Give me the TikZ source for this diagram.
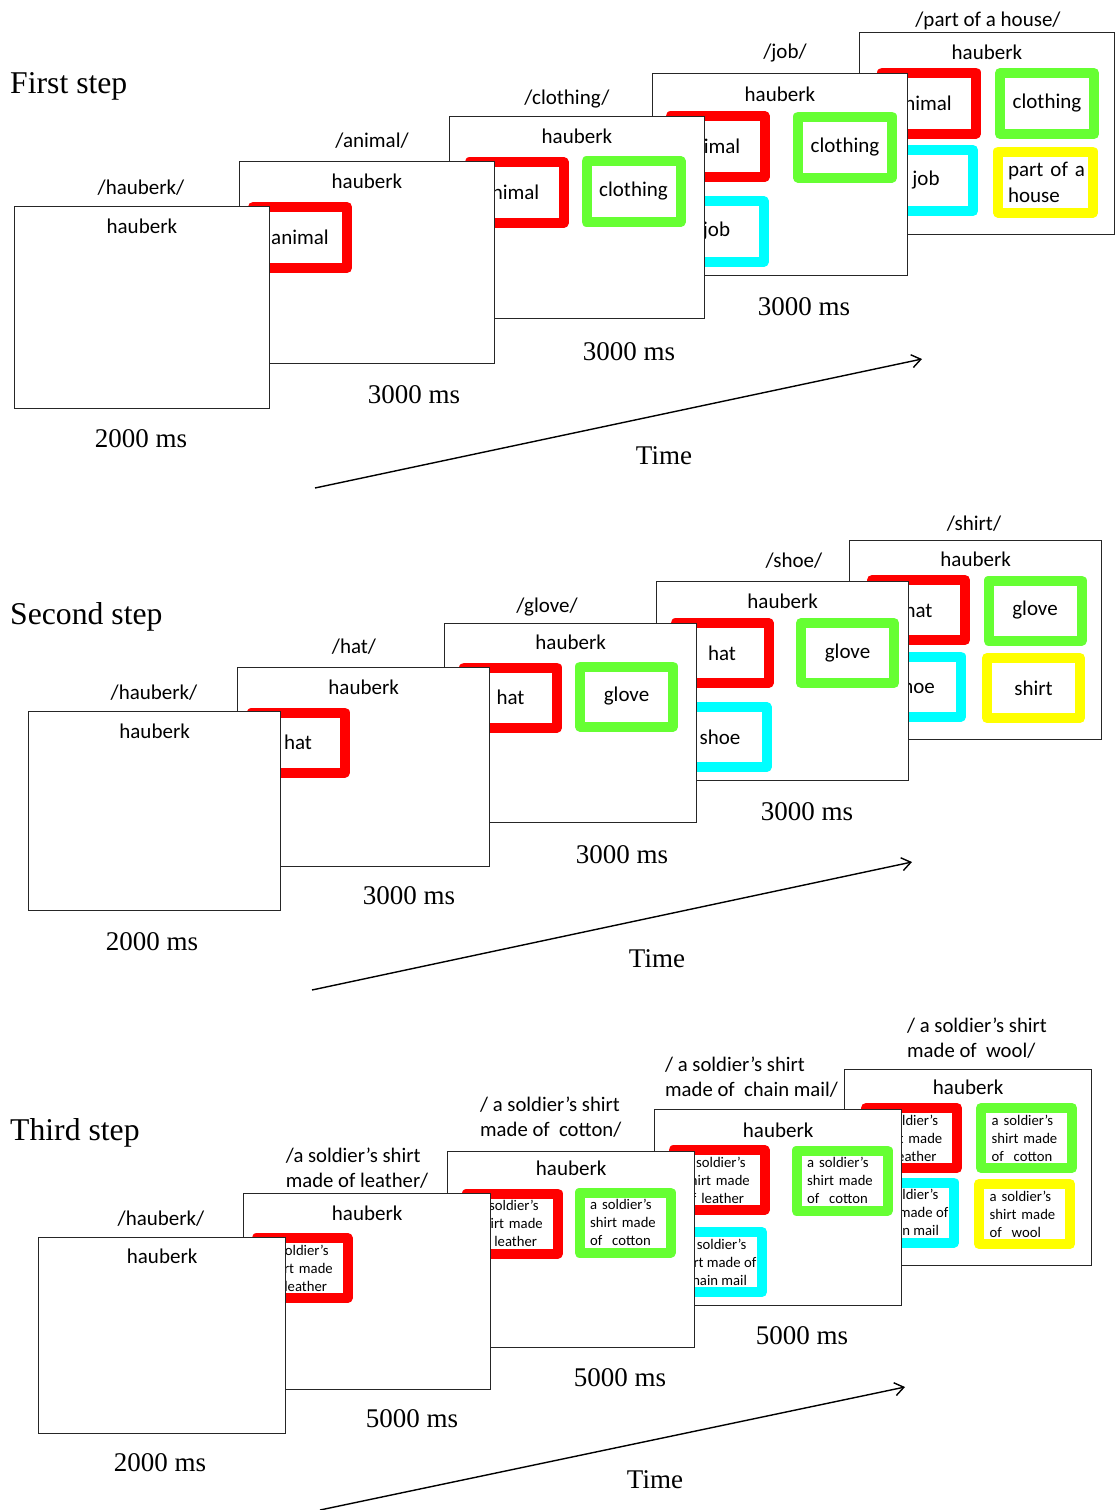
\documentclass[tikz,border=0pt]{standalone}
\usepackage{fontspec}
\usetikzlibrary{arrows.meta}
\newfontfamily\cuefont{Carlito}
\newfontfamily\capfont{Liberation Serif}
\definecolor{cueRed}{RGB}{255,0,0}
\definecolor{cueGreen}{RGB}{102,255,51}
\definecolor{cueCyan}{RGB}{0,255,255}
\definecolor{cueYellow}{RGB}{255,255,0}

\begin{document}
\begin{tikzpicture}[x=1pt,y=-1pt,
  slide/.style={draw=black!85, line width=1.3pt, fill=white, anchor=north west, inner sep=0pt},
  slideA/.style={slide, minimum width=254.5pt, minimum height=201.5pt},
  slideB/.style={slide, minimum width=252pt, minimum height=199pt},
  slideC/.style={slide, minimum width=247pt, minimum height=196pt},
  cue/.style={draw=#1, line width=10pt, line join=round, fill=white, inner sep=0pt,
    font=\cuefont\fontsize{21}{26}\selectfont},
  cueA/.style={cue=#1, minimum width=94pt, minimum height=61pt},
  cueB/.style={cue=#1, minimum width=93pt, minimum height=60pt},
  cueC/.style={cue=#1, minimum width=91pt, minimum height=60pt,
    font=\cuefont\fontsize{14.7}{18}\selectfont},
  flushA/.style={text width=75pt, align=left, inner xsep=10pt},
  flushC/.style={text width=69.6pt, align=left, inner xsep=10.7pt},
  midC/.style={align=center},
  lab/.style={font=\cuefont\fontsize{21}{25}\selectfont, inner sep=0pt},
  lab2/.style={font=\cuefont\fontsize{20.7}{25}\selectfont, inner sep=0pt, anchor=west, align=left},
  head/.style={lab},
  ms/.style={font=\capfont\fontsize{27}{32}\selectfont, inner sep=0pt},
  steptitle/.style={font=\capfont\fontsize{31.7}{38}\selectfont, inner sep=0pt, anchor=west},
  timeax/.style={line width=1.4pt, -{Straight Barb[length=9pt,width=13pt]}}
]
\useasboundingbox (0,0) rectangle (1114,1510);

% ---------------- first step ----------------
\node[steptitle] (t1) at (10,86) {First step};

\node[slideA] (a5) at (859,32) {};
\node[cueA=cueRed] (a5r) at (929,103) {animal\hspace*{12pt}};
\node[cueA=cueGreen] (a5g) at (1047,103.5) {clothing};
\node[cueA=cueCyan] (a5c) at (926,180.5) {job};
\node[cueA=cueYellow, flushA] (a5y) at (1045.5,182) {\mbox{part of a}\\house};
\node[head] (a5h) at ([yshift=-20pt]a5.north) {hauberk};
\node[lab] (a5l) at (988,21) {/part of a house/};

\node[slideA] (a4) at (652,73) {};
\node[cueA=cueRed] (a4r) at (717.5,146.5) {animal\hspace*{12pt}};
\node[cueA=cueGreen] (a4g) at (845,147) {clothing};
\node[cueA=cueCyan] (a4c) at (716.5,231.5) {job};
\node[head] (a4h) at ([yshift=-21pt]a4.north) {hauberk};
\node[lab] (a4l) at (785,53) {/job/};
\node[ms] (a4m) at (804,307) {3000 ms};

\node[slideA] (a3) at (449,116) {};
\node[cueA=cueRed] (a3r) at (516.5,192.5) {animal\hspace*{12pt}};
\node[cueA=cueGreen] (a3g) at (633.5,191.5) {clothing};
\node[head] (a3h) at ([yshift=-20pt]a3.north) {hauberk};
\node[lab] (a3l) at (567,99) {/clothing/};
\node[ms] (a3m) at (629,352) {3000 ms};

\node[slideA] (a2) at (239,161) {};
\node[cueA=cueRed] (a2r) at (300,237.5) {animal};
\node[head] (a2h) at ([yshift=-20pt]a2.north) {hauberk};
\node[lab] (a2l) at (372,141) {/animal/};
\node[ms] (a2m) at (414,395) {3000 ms};

\node[slideA] (a1) at (14,206) {};
\node[head] (a1h) at ([yshift=-20pt]a1.north) {hauberk};
\node[lab] (a1l) at (141,188) {/hauberk/};
\node[ms] (a1m) at (141,439) {2000 ms};

\coordinate (a0) at (315,488);
\coordinate (a9) at (922,359);
\draw[timeax] (a0) -- (a9);
\node[ms] (at) at (664,456) {Time};

% ---------------- second step ----------------
\node[steptitle] (t2) at (10,617) {Second step};

\node[slideB] (b5) at (849,540) {};
\node[cueB=cueRed] (b5r) at (918.5,610) {hat};
\node[cueB=cueGreen] (b5g) at (1035,610.5) {glove};
\node[cueB=cueCyan] (b5c) at (914.5,686.5) {shoe};
\node[cueB=cueYellow] (b5y) at (1033.5,688) {shirt};
\node[head] (b5h) at ([yshift=-19.5pt]b5.north) {hauberk};
\node[lab] (b5l) at (974,524) {/shirt/};

\node[slideB] (b4) at (656,581) {};
\node[cueB=cueRed] (b4r) at (722,653) {hat};
\node[cueB=cueGreen] (b4g) at (847.5,653) {glove};
\node[cueB=cueCyan] (b4c) at (720,737) {shoe};
\node[head] (b4h) at ([yshift=-20pt]b4.north) {hauberk};
\node[lab] (b4l) at (794,561) {/shoe/};
\node[ms] (b4m) at (807,812) {3000 ms};

\node[slideB] (b3) at (444,623) {};
\node[cueB=cueRed] (b3r) at (510.5,697.5) {hat};
\node[cueB=cueGreen] (b3g) at (626.5,696.5) {glove};
\node[head] (b3h) at ([yshift=-19.5pt]b3.north) {hauberk};
\node[lab] (b3l) at (547,607) {/glove/};
\node[ms] (b3m) at (622,855) {3000 ms};

\node[slideB] (b2) at (237,667) {};
\node[cueB=cueRed] (b2r) at (298,742.5) {hat};
\node[head] (b2h) at ([yshift=-20pt]b2.north) {hauberk};
\node[lab] (b2l) at (354,647) {/hat/};
\node[ms] (b2m) at (409,896) {3000 ms};

\node[slideB] (b1) at (28,711) {};
\node[head] (b1h) at ([yshift=-20pt]b1.north) {hauberk};
\node[lab] (b1l) at (154,693) {/hauberk/};
\node[ms] (b1m) at (152,942) {2000 ms};

\coordinate (b0) at (312,990);
\coordinate (b9) at (912,862);
\draw[timeax] (b0) -- (b9);
\node[ms] (bt) at (657,959) {Time};

% ---------------- third step ----------------
\node[steptitle] (t3) at (10,1133) {Third step};

\node[slideC] (c5) at (844,1069) {};
\node[cueC=cueRed, flushC] (c5r) at (911.5,1138) {a soldier’s\\shirt made\\of leather};
\node[cueC=cueGreen, flushC] (c5g) at (1026.5,1138) {a soldier’s\\shirt made\\of~~cotton};
\node[cueC=cueCyan, midC] (c5c) at (908.5,1212.5) {a soldier’s\\shirt made~of\\chain mail};
\node[cueC=cueYellow, flushC] (c5y) at (1024.5,1214) {a soldier’s\\shirt made\\of~~wool};
\node[head] (c5h) at ([yshift=-18pt]c5.north) {hauberk};
\node[lab2] (c5l) at (907,1038.5) {/ a soldier’s shirt\\made of~~wool/};

\node[slideC] (c4) at (654,1109) {};
\node[cueC=cueRed, flushC] (c4r) at (719,1180) {a soldier’s\\shirt made\\of leather};
\node[cueC=cueGreen, flushC] (c4g) at (842,1180.5) {a soldier’s\\shirt made\\of~~cotton};
\node[cueC=cueCyan, midC] (c4c) at (716.5,1262) {a soldier’s\\shirt made~of\\chain mail};
\node[head] (c4h) at ([yshift=-21pt]c4.north) {hauberk};
\node[lab2] (c4l) at (665,1077.5) {/ a soldier’s shirt\\made of~~chain mail/};
\node[ms] (c4m) at (802,1336) {5000 ms};

\node[slideC] (c3) at (447,1151) {};
\node[cueC=cueRed, flushC] (c3r) at (512,1223.5) {a soldier’s\\shirt made\\of leather};
\node[cueC=cueGreen, flushC] (c3g) at (625,1222.5) {a soldier’s\\shirt made\\of~~cotton};
\node[head] (c3h) at ([yshift=-17.5pt]c3.north) {hauberk};
\node[lab2] (c3l) at (480,1117.5) {/ a soldier’s shirt\\made of~~cotton/};
\node[ms] (c3m) at (620,1378) {5000 ms};

\node[slideC] (c2) at (243,1193) {};
\node[cueC=cueRed, flushC] (c2r) at (302,1268) {a soldier’s\\shirt made\\of leather};
\node[head] (c2h) at ([yshift=-20pt]c2.north) {hauberk};
\node[lab2] (c2l) at (285.7,1168.5) {/a soldier’s shirt\\made of leather/};
\node[ms] (c2m) at (412,1419) {5000 ms};

\node[slideC] (c1) at (38,1237) {};
\node[head] (c1h) at ([yshift=-19pt]c1.north) {hauberk};
\node[lab] (c1l) at (161,1219) {/hauberk/};
\node[ms] (c1m) at (160,1463) {2000 ms};

\coordinate (c0) at (320,1510);
\coordinate (c9) at (905,1387);
\draw[timeax] (c0) -- (c9);
\node[ms] (ct) at (655,1480) {Time};
\end{tikzpicture}
\end{document}
